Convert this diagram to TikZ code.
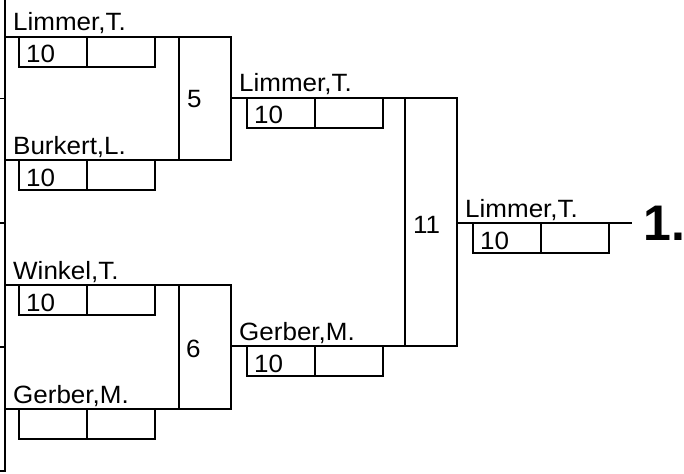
\documentclass[tikz,border=0pt]{standalone}
\usepackage{fontspec}
\setmainfont{Liberation Sans}
\tikzset{
  ln/.style={line width=1.7pt, line cap=rect},
  nm/.style={anchor=base west, inner sep=0pt, font=\fontsize{25}{30}\selectfont},
  big/.style={anchor=base west, inner sep=0pt, font=\fontsize{50}{60}\selectfont\bfseries},
}
\newcommand{\wide}[1]{\scalebox{1.04}[1]{#1}}
% slot: line start x, line end x, y, name, score, box offset, box width
\newcommand{\slotbox}[7]{%
  \draw[ln] (#1,#3) -- (#2,#3);
  \draw[ln] (#1+#6,#3) -- (#1+#6,#3+30) -- (#1+#6+#7,#3+30) -- (#1+#6+#7,#3);
  \draw[ln] (#1+#6+#7/2,#3) -- (#1+#6+#7/2,#3+30);
  \node[nm] at (#1+8,#3-6) {\wide{#4}};
  \node[nm] at (#1+#6+7,#3+26) {\wide{#5}};
}
\begin{document}
\begin{tikzpicture}[x=1pt,y=-1pt]
\useasboundingbox (0,0) rectangle (684,473);
% left frame
\draw[ln, line cap=butt] (5,0) -- (5,471) -- (0,471);
\draw[ln, line cap=butt] (0,98.5) -- (5,98.5);
\draw[ln, line cap=butt] (0,223) -- (5,223);
\draw[ln, line cap=butt] (0,347) -- (5,347);
% round 1
\slotbox{5}{231}{37}{Limmer,T.}{10}{14}{136}
\slotbox{5}{231}{160}{Burkert,L.}{10}{14}{136}
\slotbox{5}{231}{285}{Winkel,T.}{10}{14}{136}
\slotbox{5}{231}{409}{Gerber,M.}{}{14}{136}
\draw[ln] (179,37) rectangle (231,160);
\draw[ln] (179,285) rectangle (231,409);
\node[nm] (m5) at (187,108) {\wide{5}};
\node[nm] (m6) at (186,357) {\wide{6}};
% round 2
\slotbox{231}{457}{98}{Limmer,T.}{10}{16}{136}
\slotbox{231}{457}{346}{Gerber,M.}{10}{16}{136}
\draw[ln] (405,98) rectangle (457,346);
\node[nm] (m11) at (413,233) {\wide{11}};
% final
\slotbox{457}{631}{223}{Limmer,T.}{10}{16}{136}
\node[big] (place) at (643,240) {1.};
\end{tikzpicture}
\end{document}
